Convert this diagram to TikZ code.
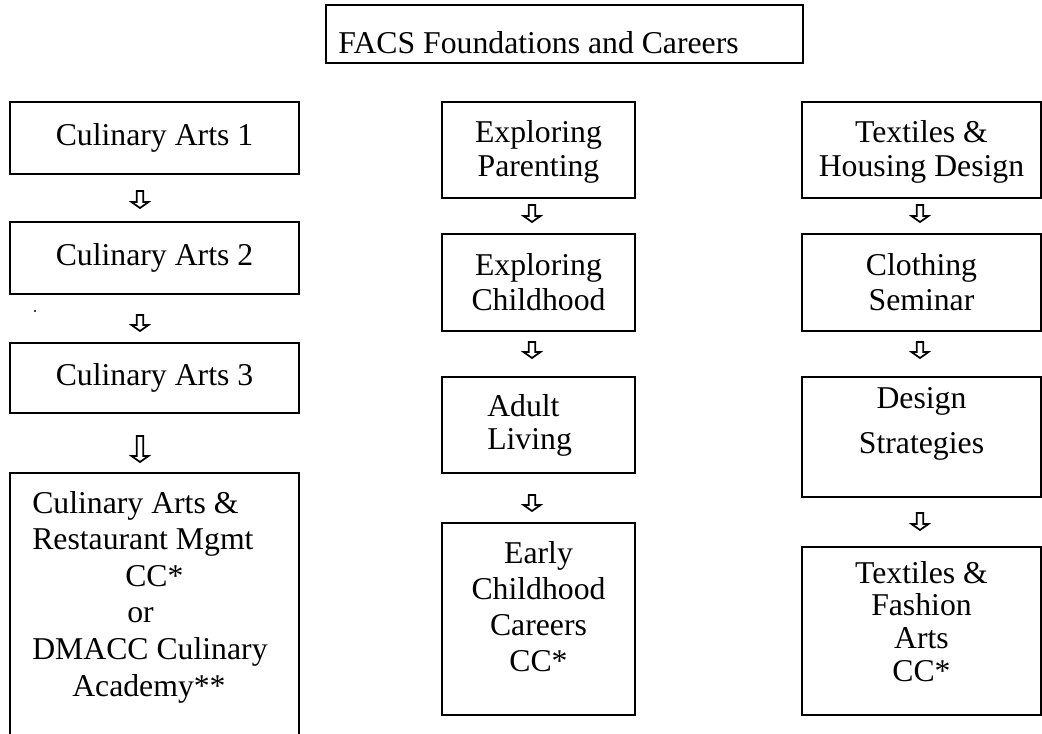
\documentclass[tikz,border=0pt]{standalone}
\usepackage{fontspec}
\setmainfont{Liberation Serif}
\usetikzlibrary{fit}
\newcommand\hollowarrow[3]{\draw[glyph] (#1-3.2,#2) -- (#1+3.2,#2) -- (#1+3.2,#3-6) -- (#1+8.5,#3-6) -- (#1,#3) -- (#1-8.5,#3-6) -- (#1-3.2,#3-6) -- cycle;}
\begin{document}
\begin{tikzpicture}[x=0.75pt,y=-0.75pt,
 box/.style={draw, line width=1.5pt, inner sep=0pt, rectangle},
 t/.style={inner sep=0pt, anchor=base, font=\fontsize{23.8}{28}\selectfont},
 tl/.style={t, anchor=base west},
 glyph/.style={draw, line width=1.3pt, line join=miter}]
\useasboundingbox (0,0) rectangle (1042,733);
% boxes
\node[box, fit={(326,5) (803,63)}] (top) {};
\node[box, fit={(10,102) (299,174)}] (l1) {};
\node[box, fit={(10,222) (299,294)}] (l2) {};
\node[box, fit={(10,343) (299,413)}] (l3) {};
\node[box, fit={(10,473) (299,760)}] (l4) {};
\node[box, fit={(442,102) (635,198)}] (m1) {};
\node[box, fit={(442,234) (635,331)}] (m2) {};
\node[box, fit={(442,377) (635,473)}] (m3) {};
\node[box, fit={(442,523) (635,715)}] (m4) {};
\node[box, fit={(802,102) (1041,198)}] (r1) {};
\node[box, fit={(802,234) (1041,331)}] (r2) {};
\node[box, fit={(802,377) (1041,497)}] (r3) {};
\node[box, fit={(802,547) (1041,715)}] (r4) {};
% texts
\node[tl] (ttop) at (338,53) {FACS Foundations and Careers};
\node[t] (tl1) at (154.5,145) {Culinary Arts 1};
\node[t] (tl2) at (154.5,265) {Culinary Arts 2};
\node[t] (tl3) at (154.5,385) {Culinary Arts 3};
\node[tl] (tl4a) at (32,513) {Culinary Arts \&};
\node[tl] (tl4b) at (32,549) {Restaurant Mgmt};
\node[tl] (tl4c) at (125,586) {CC*};
\node[tl] (tl4d) at (127,622) {or};
\node[tl] (tl4e) at (32,659) {DMACC Culinary};
\node[tl] (tl4f) at (72,696) {Academy**};
\node[t] (tm1a) at (538.5,142) {Exploring};
\node[t] (tm1b) at (538.5,176) {Parenting};
\node[t] (tm2a) at (538.5,275) {Exploring};
\node[t] (tm2b) at (538.5,310) {Childhood};
\node[tl] (tm3a) at (487,416) {Adult};
\node[tl] (tm3b) at (487,449) {Living};
\node[t] (tm4a) at (538.5,563) {Early};
\node[t] (tm4b) at (538.5,599) {Childhood};
\node[t] (tm4c) at (538.5,635) {Careers};
\node[t] (tm4d) at (538.5,671) {CC*};
\node[t] (tr1a) at (921.5,142) {Textiles \&};
\node[t] (tr1b) at (921.5,176) {Housing Design};
\node[t] (tr2a) at (921.5,275) {Clothing};
\node[t] (tr2b) at (921.5,310) {Seminar};
\node[t] (tr3a) at (921.5,408) {Design};
\node[t] (tr3b) at (921.5,453) {Strategies};
\node[t] (tr4a) at (921.5,583) {Textiles \&};
\node[t] (tr4b) at (921.5,615) {Fashion};
\node[t] (tr4c) at (921.5,648) {Arts};
\node[t] (tr4d) at (921.5,681) {CC*};
% stray dot
\fill (35,311) circle (1.2);
% hollow arrows
\hollowarrow{140}{191}{208}
\hollowarrow{140}{315}{331}
\hollowarrow{140}{436}{462}
\hollowarrow{532}{205}{222}
\hollowarrow{532}{342}{358}
\hollowarrow{532}{495}{511}
\hollowarrow{920}{205}{222}
\hollowarrow{920}{342}{358}
\hollowarrow{920}{513}{530}
\end{tikzpicture}
\end{document}
